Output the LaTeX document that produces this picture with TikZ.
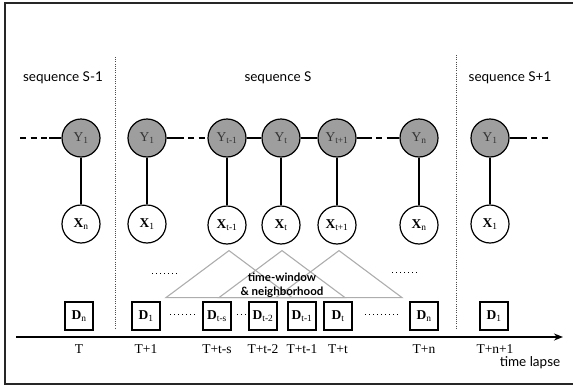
\documentclass[tikz,border=0pt]{standalone}
\usepackage{fontspec}
\setmainfont{Liberation Serif}
\newfontfamily\lato{Lato}
\usetikzlibrary{calc,arrows.meta}
\begin{document}
\begin{tikzpicture}[x=1pt,y=-1pt,
 ynode/.style={circle,draw,line width=1.2pt,fill=black!38,minimum size=38pt,inner sep=0pt,text=black!80,font=\fontsize{13.5}{13.5}\selectfont},
 xnode/.style={circle,draw,line width=1.2pt,fill=white,minimum size=38pt,inner sep=0pt,font=\fontsize{13.5}{13.5}\selectfont\bfseries},
 dbox/.style={draw,line width=1.2pt,minimum width=28pt,minimum height=28pt,inner sep=1pt,font=\fontsize{13.5}{13.5}\selectfont\bfseries},
 link/.style={line width=1.5pt},
 dlink/.style={line width=1.5pt,dash pattern=on 6pt off 4.5pt},
 seqlabel/.style={font=\lato\fontsize{13.5}{13.5}\selectfont},
 tlabel/.style={font=\fontsize{13.5}{13.5}\selectfont},
 sep/.style={line width=0.8pt,black!70,dash pattern=on 1pt off 1.2pt},
 dots/.style={line width=0.9pt,dash pattern=on 1pt off 3pt},
 tri/.style={line width=1.1pt,black!32},
]
\useasboundingbox (0,0) rectangle (573,391);
% frame
\draw[line width=1.3pt,black!85] (585,3) -- (5,3) -- (5,384) -- (585,384);
% separators
\draw[sep] (115,57) -- (115,329);
\draw[sep] (456,55) -- (456,328);
% sequence labels
\node[seqlabel] (ls0) at (63,78) {sequence S-1};
\node[seqlabel] (ls1) at (278,78) {sequence S};
\node[seqlabel] (ls2) at (510,78) {sequence S+1};
% Y nodes
\node[ynode] (ya) at (81,138) {Y\textsubscript{1}};
\node[ynode] (y1) at (147,138) {Y\textsubscript{1}};
\node[ynode] (ytm) at (227,138) {Y\textsubscript{t-1}};
\node[ynode] (yt) at (281,138) {Y\textsubscript{t}};
\node[ynode] (ytp) at (337,138) {Y\textsubscript{t+1}};
\node[ynode] (yn) at (419,138) {Y\textsubscript{n}};
\node[ynode] (yb) at (490,138) {Y\textsubscript{1}};
% X nodes
\node[xnode] (xa) at (81,224) {X\textsubscript{\mdseries n}};
\node[xnode] (x1) at (147,224) {X\textsubscript{\mdseries 1}};
\node[xnode] (xtm) at (227,225) {X\textsubscript{\mdseries t-1}};
\node[xnode] (xt) at (281,225) {X\textsubscript{\mdseries t}};
\node[xnode] (xtp) at (337,225) {X\textsubscript{\mdseries t+1}};
\node[xnode] (xn) at (419,225) {X\textsubscript{\mdseries n}};
\node[xnode] (xb) at (490,224) {X\textsubscript{\mdseries 1}};
% vertical links
\foreach \a/\b in {ya/xa,y1/x1,ytm/xtm,yt/xt,ytp/xtp,yn/xn,yb/xb}
  \draw[link] (\a) -- (\b);
% horizontal links
\coordinate (lend) at (20,138);
\coordinate (rend) at (549,138);
\draw[dlink] (lend) -- ($(ya.west)+(-12,0)$);
\draw[link] ($(ya.west)+(-12,0)$) -- (ya.west);
\draw[link] (y1.east) -- ($(y1.east)+(11,0)$);
\draw[dlink] ($(y1.east)+(11,0)$) -- (ytm.west);
\draw[link] (ytm) -- (yt);
\draw[link] (yt) -- (ytp);
\draw[link] (ytp.east) -- ($(ytp.east)+(9,0)$);
\draw[dlink] ($(ytp.east)+(9,0)$) -- ($(yn.west)+(-10,0)$);
\draw[link] ($(yn.west)+(-10,0)$) -- (yn.west);
\draw[link] (yb.east) -- ($(yb.east)+(11,0)$);
\draw[dlink] ($(yb.east)+(11,0)$) -- (rend);
% triangles
\draw[tri] ($(xtm.south)+(2,6)$) -- ($(xtm.south)+(-61,53)$) -- ($(xtm.south)+(65,53)$) -- cycle;
\draw[tri] ($(xt.south)+(1,6)$) -- ($(xt.south)+(-62,53)$) -- ($(xt.south)+(64,53)$) -- cycle;
\draw[tri] ($(xtp.south)+(2,6)$) -- ($(xtp.south)+(-61,53)$) -- ($(xtp.south)+(65,53)$) -- cycle;
\node[font=\lato\bfseries\fontsize{11.5}{14}\selectfont,align=center] (tw) at (282,285) {time-window\\\& neighborhood};
% dots
\draw[dots] (152,273) -- (178,273);
\draw[dots] (392,272) -- (418,272);
\draw[dots] (170,314) -- (196,314);
\draw[dots] (237,314) -- (248,314);
\draw[dots] (365,314) -- (401,314);
% D boxes
\node[dbox] (da) at (79,316) {D\textsubscript{\mdseries n}};
\node[dbox] (d1) at (146,316) {D\textsubscript{\mdseries 1}};
\node[dbox] (dts) at (217,316) {D\textsubscript{\mdseries t-s}};
\node[dbox] (dt2) at (263,316) {D\textsubscript{\mdseries t-2}};
\node[dbox] (dt1) at (302,316) {D\textsubscript{\mdseries t-1}};
\node[dbox] (dt) at (338,316) {D\textsubscript{\mdseries t}};
\node[dbox] (dn) at (424,316) {D\textsubscript{\mdseries n}};
\node[dbox] (db) at (494,316) {D\textsubscript{\mdseries 1}};
% time axis
\coordinate (ax0) at (16,337);
\coordinate (ax1) at (563,337);
\draw[line width=1.8pt,-{Stealth[length=9pt,width=7pt]}] (ax0) -- (ax1);
\node[tlabel] (t0) at (79,349) {T};
\node[tlabel] (t1) at (146,349) {T+1};
\node[tlabel] (t2) at (217,349) {T+t-s};
\node[tlabel] (t3) at (263,349) {T+t-2};
\node[tlabel] (t4) at (302,349) {T+t-1};
\node[tlabel] (t5) at (338,349) {T+t};
\node[tlabel] (t6) at (424,349) {T+n};
\node[tlabel] (t7) at (495,349) {T+n+1};
\node[seqlabel] (tl) at (530,363) {time lapse};
\end{tikzpicture}
\end{document}
